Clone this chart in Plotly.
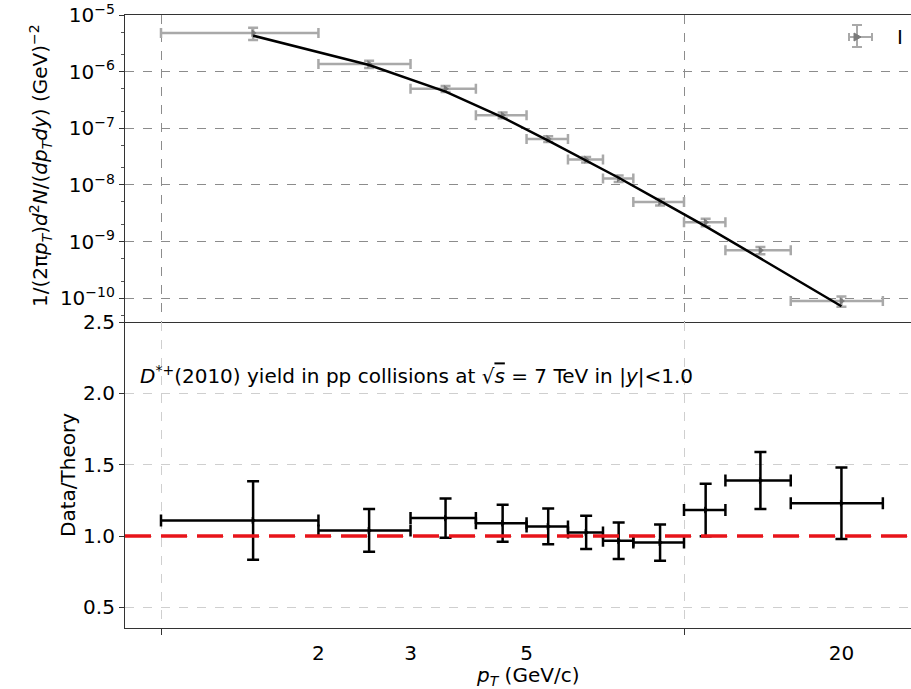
import numpy as np
import plotly.graph_objects as go

# ---- data ----
pt_lo = [1, 2, 3, 4, 5, 6, 7, 8, 10, 12, 16]
pt_hi = [2, 3, 4, 5, 6, 7, 8, 10, 12, 16, 24]
pt_c = [1.5, 2.5, 3.5, 4.5, 5.5, 6.5, 7.5, 9, 11, 14, 20]
yield_val = [4.8e-6, 1.36e-6, 5.0e-7, 1.7e-7, 6.5e-8, 2.8e-8, 1.3e-8, 5.0e-9, 2.2e-9, 7.0e-10, 8.9e-11]
yield_err = [1.19e-6, 1.96e-7, 6.1e-8, 2.0e-8, 7.6e-9, 3.2e-9, 1.7e-9, 6.6e-10, 3.4e-10, 1.0e-10, 1.8e-11]
theory_val = [4.32e-6, 1.31e-6, 4.44e-7, 1.56e-7, 6.07e-8, 2.73e-8, 1.34e-8, 5.24e-9, 1.86e-9, 5.04e-10, 7.2e-11]
ratio = [1.11, 1.04, 1.126, 1.09, 1.068, 1.026, 0.967, 0.955, 1.183, 1.389, 1.23]
ratio_err = [0.275, 0.15, 0.138, 0.13, 0.125, 0.117, 0.128, 0.127, 0.184, 0.2, 0.25]

x_tick_vals = [1, 2, 3, 5, 10, 20]
x_tick_text = ["", "2", "3", "5", "", "20"]
yield_tick_vals = [1e-10, 1e-9, 1e-8, 1e-7, 1e-6, 1e-5]
yield_tick_text = ["10<sup>−10</sup>", "10<sup>−9</sup>", "10<sup>−8</sup>",
                   "10<sup>−7</sup>", "10<sup>−6</sup>", "10<sup>−5</sup>"]
ratio_ticks = [0.5, 1.0, 1.5, 2.0, 2.5]

xp = [h - c for h, c in zip(pt_hi, pt_c)]
xm = [c - l for c, l in zip(pt_c, pt_lo)]

FONT = "DejaVu Sans"
fig = go.Figure()

# top panel: data
fig.add_trace(go.Scatter(
    x=pt_c, y=yield_val, mode="markers", xaxis="x", yaxis="y",
    marker=dict(symbol="triangle-right", size=7, color="#7a7a7a"),
    error_x=dict(type="data", array=xp, arrayminus=xm, color="#a9a9a9", thickness=2.5, width=5),
    error_y=dict(type="data", array=yield_err, color="#a9a9a9", thickness=2.5, width=5),
    showlegend=False))
# top panel: theory
fig.add_trace(go.Scatter(
    x=pt_c, y=theory_val, mode="lines", xaxis="x", yaxis="y",
    line=dict(color="black", width=2.5), showlegend=False))

# bottom panel: ratio
fig.add_trace(go.Scatter(
    x=pt_c, y=ratio, mode="markers", xaxis="x2", yaxis="y2",
    marker=dict(symbol="triangle-right", size=6, color="black"),
    error_x=dict(type="data", array=xp, arrayminus=xm, color="black", thickness=2.5, width=6),
    error_y=dict(type="data", array=ratio_err, color="black", thickness=2.5, width=6),
    showlegend=False))

xr = [np.log10(1) - 36 / 523, np.log10(1) + 750 / 523]
split = 306 / 613

fig.update_layout(
    width=911, height=689,
    margin=dict(l=125, r=0, t=15, b=61),
    paper_bgcolor="white", plot_bgcolor="white",
    font=dict(family=FONT, size=20, color="black"),
    xaxis=dict(type="log", range=xr, domain=[0, 1], anchor="y",
               tickvals=[1, 10], showticklabels=False, ticks="",
               showgrid=True, gridcolor="#8c8c8c", griddash="dash", gridwidth=1,
               showline=True, linecolor="#333", linewidth=1.2, mirror=True, zeroline=False),
    yaxis=dict(type="log", range=[-10.42, -4.9995], domain=[split, 1], anchor="x",
               tickvals=yield_tick_vals, ticktext=yield_tick_text,
               ticks="outside", ticklen=5, tickcolor="#333",
               minor=dict(ticks="outside", ticklen=3, tickcolor="#555", showgrid=False),
               showgrid=True, gridcolor="#8c8c8c", griddash="dash", gridwidth=1,
               showline=True, linecolor="#333", linewidth=1.2, zeroline=False,
               tickfont=dict(size=20)),
    xaxis2=dict(type="log", range=xr, domain=[0, 1], anchor="y2",
                tickvals=x_tick_vals, ticktext=x_tick_text, ticks="outside", ticklen=0,
                ticklabelstandoff=7,
                showgrid=False,
                minor=dict(tickmode="array", tickvals=[1, 10], ticks="outside", ticklen=6,
                           tickcolor="#333", showgrid=True, gridcolor="#cfcfcf",
                           griddash="dash", gridwidth=1),
                showline=True, linecolor="#333", linewidth=1.2, mirror=False, zeroline=False,
                tickfont=dict(size=20)),
    yaxis2=dict(range=[0.356, 2.5], domain=[0, split], anchor="x2",
                tickvals=ratio_ticks, tickformat=".1f", ticks="outside", ticklen=5, tickcolor="#333",
                showgrid=True, gridcolor="#cfcfcf", griddash="dash", gridwidth=1,
                showline=True, linecolor="#333", linewidth=1.2, zeroline=False,
                tickfont=dict(size=20)),
)

# red reference line at ratio = 1
fig.add_shape(type="line", xref="x2 domain", yref="y2", x0=0, x1=1, y0=1, y1=1,
              line=dict(color="#e8141a", width=3.5, dash="26px,10px"), layer="above")

def px(xpix):
    return (xpix - 125) / 786

def py(ypix):
    return (628 - ypix) / 613

# axis titles
fig.add_annotation(text="<i>p</i><sub><i>T</i></sub> (GeV/c)", xref="paper", yref="paper",
                   x=px(527), y=py(676), xanchor="center", yanchor="middle", showarrow=False,
                   font=dict(size=20, family=FONT))
fig.add_annotation(
    text="1/(2π<i>p</i><sub><i>T</i></sub>)<i>d</i><sup>2</sup><i>N</i>/(<i>dp</i><sub><i>T</i></sub><i>dy</i>) (GeV)<sup>−2</sup>",
    xref="paper", yref="paper", x=px(40), y=py(166), xanchor="center", yanchor="middle",
    textangle=-90, showarrow=False, font=dict(size=20, family=FONT))
fig.add_annotation(text="Data/Theory", xref="paper", yref="paper",
                   x=px(68), y=py(475), xanchor="center", yanchor="middle",
                   textangle=-90, showarrow=False, font=dict(size=20, family=FONT))

# panel label
fig.add_annotation(
    text="<i>D</i><sup>*+</sup>(2010) yield in pp collisions at √<span style='text-decoration:overline'><i>s</i></span> = 7 TeV in |<i>y</i>|<1.0",
    xref="paper", yref="paper", x=px(138), y=py(375),
    xanchor="left", yanchor="middle", showarrow=False, font=dict(size=20, family=FONT))

# legend glyph (top right)
g = "#a9a9a9"
for (x0, y0, x1, y1) in [
    (849, 37, 872, 37), (849, 33, 849, 41), (872, 33, 872, 41),
    (857, 25, 857, 47), (852, 25, 862, 25), (852, 47, 862, 47)]:
    fig.add_shape(type="line", xref="paper", yref="paper",
                  x0=px(x0), y0=py(y0), x1=px(x1), y1=py(y1),
                  line=dict(color=g, width=2))
fig.add_shape(type="path", xref="paper", yref="paper",
              path=f"M {px(854)},{py(33)} L {px(861)},{py(37)} L {px(854)},{py(41)} Z",
              fillcolor="#7a7a7a", line=dict(color="#7a7a7a", width=1))
fig.add_annotation(text="I", xref="paper", yref="paper", x=px(900), y=py(37),
                   xanchor="center", yanchor="middle", showarrow=False,
                   font=dict(size=20, family=FONT, color="black"))

fig.write_html("out.html")
